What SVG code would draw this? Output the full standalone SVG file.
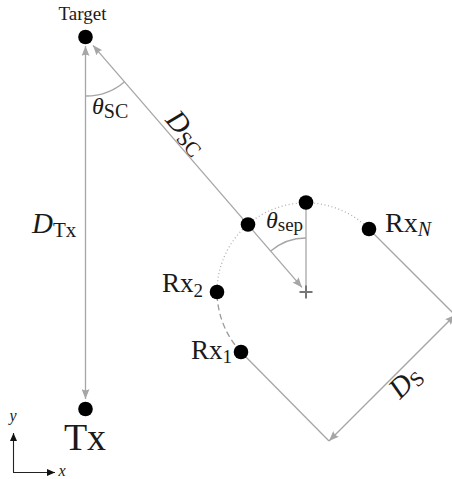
<svg xmlns="http://www.w3.org/2000/svg" width="452" height="479" viewBox="0 0 452 479">
<style>
  text { font-family: "Liberation Serif", "DejaVu Serif", serif; fill: #1a1a1a; }
  .it { font-style: italic; }
  .dot { fill: #000; }
  .g { stroke: #a6a6a6; stroke-width: 1.3; fill: none; }
  .arr2 { marker-start: url(#ah); marker-end: url(#ah); }
  .ax { stroke: #222; stroke-width: 1.1; fill: none; marker-end: url(#axh); }
</style>
<defs>
  <marker id="ah" viewBox="0 0 10 8" refX="10" refY="4" markerWidth="10" markerHeight="8" orient="auto-start-reverse" markerUnits="userSpaceOnUse">
    <path d="M0,0 L10,4 L0,8 Q2.5,4 0,0 z" fill="#a6a6a6"/>
  </marker>
  <marker id="axh" viewBox="0 0 8 7" refX="8" refY="3.5" markerWidth="8" markerHeight="7" orient="auto" markerUnits="userSpaceOnUse">
    <path d="M0,0 L8,3.5 L0,7 z" fill="#111"/>
  </marker>
</defs>
<rect width="452" height="479" fill="#fff"/>

<g id="connectors">
  <line class="g arr2" x1="85.5" y1="46" x2="85.5" y2="399"/>
  <line class="g arr2" x1="93" y1="45.3" x2="302" y2="287.4"/>
  <path class="g" d="M86,96 A59,59 0 0 0 124.6,81.7"/>
  <path class="g" d="M270.7,251.1 A54,54 0 0 1 306,238"/>
  <line class="g" x1="306" y1="202" x2="306" y2="292"/>
  <path d="M217,292 A89,89 0 0 1 369,229" fill="none" stroke="#b0b0b0" stroke-width="1.3" stroke-dasharray="1 2.6"/>
  <path d="M241,352 A89,89 0 0 1 217,292" fill="none" stroke="#9a9a9a" stroke-width="1.3" stroke-dasharray="6 3.5"/>
  <line class="g" x1="241" y1="352" x2="329" y2="441"/>
  <line class="g" x1="369" y1="229" x2="455" y2="315"/>
  <line class="g arr2" x1="329" y1="441" x2="455" y2="315"/>
  <line class="ax" x1="13.5" y1="472.5" x2="13.5" y2="433"/>
  <line class="ax" x1="13" y1="472.5" x2="55" y2="472.5"/>
</g>

<g id="centre">
  <path d="M299.5,292 H312.5 M306,285.5 V298.5" stroke="#777" stroke-width="2" fill="none"/>
</g>

<g id="target">
  <circle class="dot" cx="85.5" cy="37" r="7.3"/>
  <text x="82.5" y="20" font-size="19" text-anchor="middle">Target</text>
</g>

<g id="tx">
  <circle class="dot" cx="85.5" cy="409" r="7.3"/>
  <text x="85" y="450" font-size="38" text-anchor="middle">Tx</text>
</g>

<g id="rx1">
  <circle class="dot" cx="241" cy="352" r="7.3"/>
  <text x="191" y="359" font-size="27">Rx<tspan font-size="19" dy="4">1</tspan></text>
</g>

<g id="rx2">
  <circle class="dot" cx="217" cy="292" r="7.3"/>
  <text x="162" y="292" font-size="27">Rx<tspan font-size="19" dy="5">2</tspan></text>
</g>

<g id="rx-mid">
  <circle class="dot" cx="248" cy="224.5" r="7.3"/>
</g>

<g id="rx-top">
  <circle class="dot" cx="306" cy="202.5" r="7.3"/>
</g>

<g id="rxN">
  <circle class="dot" cx="369" cy="229" r="7.3"/>
  <text x="385" y="232" font-size="28">Rx<tspan class="it" font-size="20" dy="4">N</tspan></text>
</g>

<g id="labels">
  <text x="32" y="233"><tspan class="it" font-size="29">D</tspan><tspan font-size="21" dy="4">Tx</tspan></text>
  <text x="92" y="114"><tspan class="it" font-size="24">θ</tspan><tspan font-size="20" dy="4">SC</tspan></text>
  <text x="266" y="228"><tspan class="it" font-size="24">θ</tspan><tspan font-size="19" dy="3">sep</tspan></text>
  <g transform="translate(176,141.5) rotate(49.2)">
    <text x="0" y="-5" text-anchor="middle"><tspan class="it" font-size="29">D</tspan><tspan font-size="21" dy="4">SC</tspan></text>
  </g>
  <g transform="translate(396.7,373.7) rotate(-45)">
    <text x="0" y="21" text-anchor="middle"><tspan class="it" font-size="29">D</tspan><tspan font-size="21" dy="4">S</tspan></text>
  </g>
  <text x="13" y="421" font-size="16" class="it" text-anchor="middle">y</text>
  <text x="62" y="476" font-size="16" class="it" text-anchor="middle">x</text>
</g>
</svg>
